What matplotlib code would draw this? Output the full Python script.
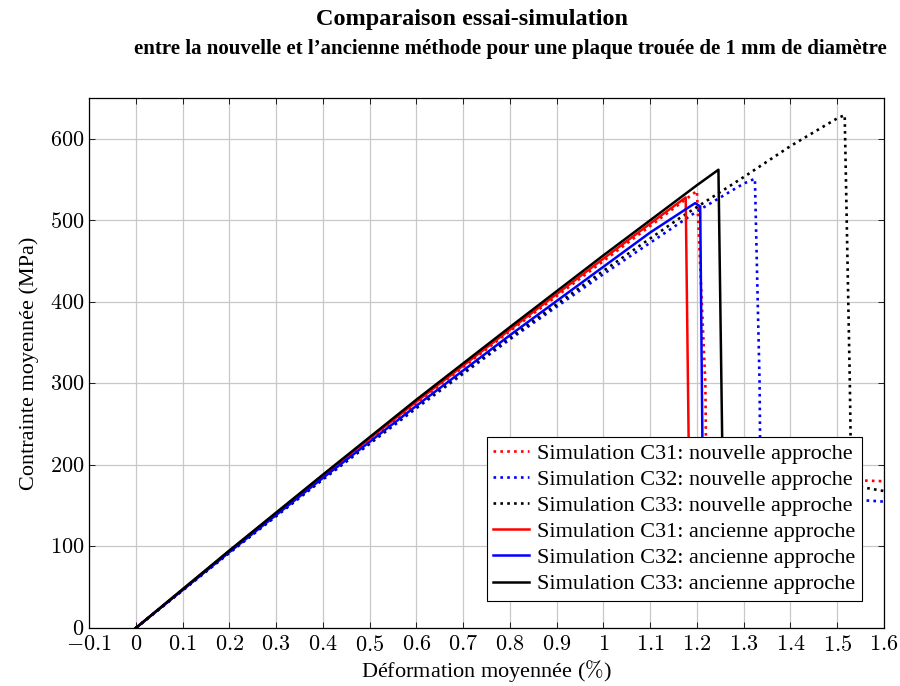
import matplotlib
matplotlib.use("Agg")
import matplotlib.pyplot as plt
from matplotlib.ticker import FuncFormatter, MultipleLocator

plt.rcParams['font.family'] = ['Liberation Serif', 'DejaVu Serif']
plt.rcParams['mathtext.fontset'] = 'cm'

# Courbes contrainte-deformation
c31_new_x = [0, 0.2, 0.4, 0.6, 0.8, 1.0, 1.1, 1.2, 1.218, 1.22, 1.4, 1.6]
c31_new_y = [0, 94, 186, 276, 364, 450, 493, 536, 300, 190, 184, 180]

c32_new_x = [0, 0.2, 0.4, 0.6, 0.8, 1.0, 1.164, 1.2, 1.3, 1.324, 1.334, 1.336, 1.6]
c32_new_y = [0, 92, 182, 269.5, 354, 434, 497, 511, 545, 551, 300, 165, 155]

c33_new_x = [0, 0.2, 0.4, 0.6, 0.8, 1.0, 1.164, 1.3, 1.4, 1.5, 1.516, 1.527, 1.53, 1.6]
c33_new_y = [0, 92.5, 183, 271, 356, 438, 503, 553, 591, 625, 629, 300, 175, 168]

c31_old_x = [0, 0.2, 0.4, 0.6, 0.8, 1.0, 1.1, 1.176, 1.184]
c31_old_y = [0, 94.5, 187, 277.5, 366, 453, 496, 528, 150]

c32_old_x = [0, 0.2, 0.4, 0.6, 0.8, 1.0, 1.1, 1.196, 1.207, 1.213]
c32_old_y = [0, 93, 184, 272.5, 359, 443, 485, 521, 517, 150]

c33_old_x = [0, 0.2, 0.4, 0.6, 0.8, 1.0, 1.2, 1.246, 1.256]
c33_old_y = [0, 95, 188, 280, 369, 457, 543, 562, 150]

labels = ['Simulation C31: nouvelle approche', 'Simulation C32: nouvelle approche',
          'Simulation C33: nouvelle approche', 'Simulation C31: ancienne approche',
          'Simulation C32: ancienne approche', 'Simulation C33: ancienne approche']

fig = plt.figure(figsize=(9, 6.86), dpi=100)
ax = fig.add_axes([0.0989, 0.0845, 0.8833, 0.7727])

dot = (0, (1, 1.6))
ax.plot(c31_new_x, c31_new_y, color='#ff0000', lw=1.9, ls=dot, label=labels[0])
ax.plot(c32_new_x, c32_new_y, color='#0000ff', lw=1.9, ls=dot, label=labels[1])
ax.plot(c33_new_x, c33_new_y, color='black', lw=1.9, ls=dot, label=labels[2])
ax.plot(c31_old_x, c31_old_y, color='#ff0000', lw=1.8, label=labels[3])
ax.plot(c32_old_x, c32_old_y, color='#0000ff', lw=1.8, label=labels[4])
ax.plot(c33_old_x, c33_old_y, color='black', lw=1.8, label=labels[5])

ax.set_xlim(-0.1, 1.6)
ax.set_ylim(0, 650)
ax.xaxis.set_major_locator(MultipleLocator(0.1))
ax.yaxis.set_major_locator(MultipleLocator(100))
ax.xaxis.set_major_formatter(FuncFormatter(lambda v, p: r'$%g$' % round(v, 2)))
ax.yaxis.set_major_formatter(FuncFormatter(lambda v, p: r'$%g$' % v))
ax.tick_params(direction='in', top=True, right=True, labelsize=16, length=4, width=0.6)
ax.tick_params(axis='x', pad=6)
ax.grid(True, color='#c8c8c8', lw=0.9)
ax.set_axisbelow(True)
for s in ax.spines.values():
    s.set_linewidth(0.9)

ax.set_xlabel(r'Déformation moyennée ($\%$)', fontsize=16, labelpad=1)
ax.set_ylabel('Contrainte moyennée (MPa)', fontsize=16, labelpad=8)

fig.text(0.524, 0.971, 'Comparaison essai-simulation', ha='center', va='center',
         fontsize=17.5, fontweight='bold')
fig.text(0.567, 0.929, "entre la nouvelle et l\u2019ancienne méthode pour une plaque trouée de 1 mm de diamètre",
         ha='center', va='center', fontsize=15, fontweight='bold')

leg = ax.legend(loc='lower right', bbox_to_anchor=(0.972, 0.051), fontsize=16,
                fancybox=False, framealpha=1, edgecolor='black', handlelength=1.6,
                labelspacing=0.25, borderpad=0.3, handletextpad=0.35, borderaxespad=0)
leg.get_frame().set_linewidth(0.8)

fig.savefig('out.png', dpi=100)
